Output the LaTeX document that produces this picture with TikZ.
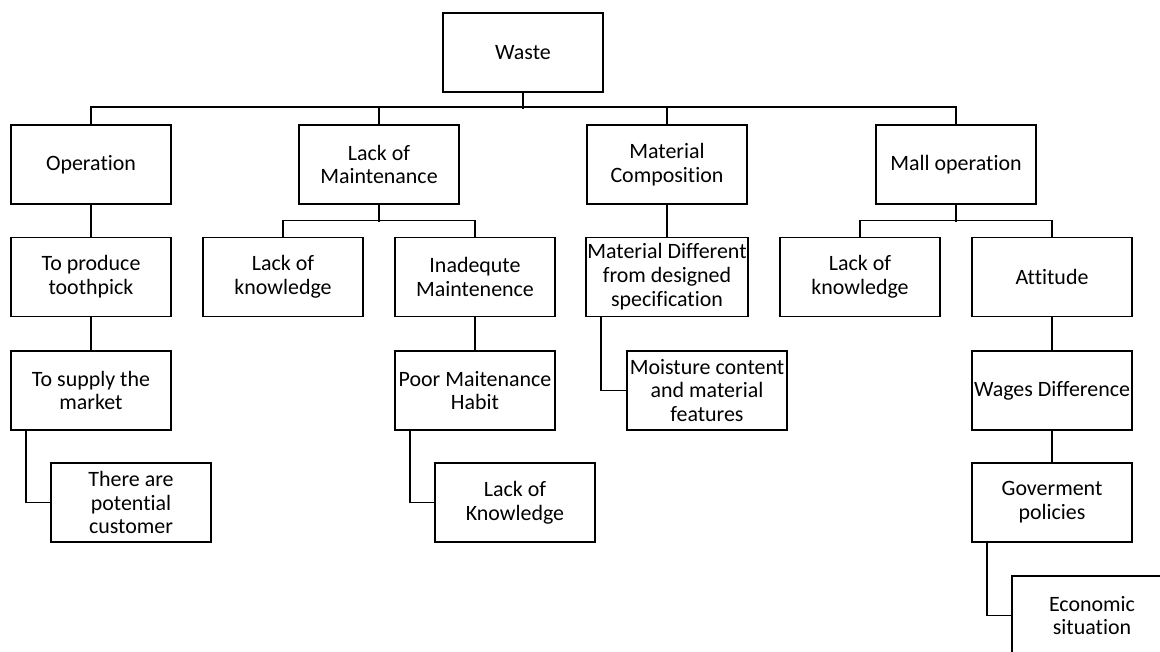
\documentclass[tikz,border=0pt]{standalone}
\usepackage{fontspec}
\setmainfont{Carlito}[Ligatures={NoCommon}]
\begin{document}
\begin{tikzpicture}[x=0.025cm,y=-0.025cm,
  box/.style={draw, line width=1.3pt, minimum width=4cm, minimum height=1.975cm,
    inner sep=1pt, align=center, font=\fontsize{15.6}{17}\selectfont},
  link/.style={draw, line width=1.3pt}]
\useasboundingbox (0,0) rectangle (1160,652);
\clip (0,0) rectangle (1160,652);

\node[box] (waste) at (523,52.5) {Waste};

\node[box] (op)   at (91,164.5)  {Operation};
\node[box] (lom)  at (379,164.5) {Lack of\\Maintenance};
\node[box] (mc)   at (667,164.5) {Material\\Composition};
\node[box] (mall) at (956,164.5) {Mall operation};

\node[box] (prod)  at (91,277)   {To produce\\toothpick};
\node[box] (lk1)   at (283,277)  {Lack of\\knowledge};
\node[box] (inad)  at (475,277)  {Inadequte\\Maintenence};
\node[box] (mdiff) at (667,277)  {Material Different\\from designed\\specification};
\node[box] (lk2)   at (860,277)  {Lack of\\knowledge};
\node[box] (att)   at (1052,277) {Attitude};

\node[box] (supp)  at (91,390.5)   {To supply the\\market};
\node[box] (poor)  at (475,390.5)  {Poor Maitenance\\Habit};
\node[box] (moist) at (707,390.5)  {Moisture content\\and material\\features};
\node[box] (wages) at (1052,390.5) {Wages Difference};

\node[box] (cust)  at (131,502.5)  {There are\\potential\\customer};
\node[box] (lk3)   at (515,502.5)  {Lack of\\Knowledge};
\node[box] (gov)   at (1052,502.5) {Goverment\\policies};

\node[box] (econ)  at (1092,615.5) {Economic\\situation};

% top level
\path[link] (waste.south) -- ++(0,16);
\path[link] (op.north) -- ++(0,-17) -| (mall.north);
\path[link] (lom.north) -- ++(0,-17);
\path[link] (mc.north) -- ++(0,-17);

% second level
\path[link] (op) -- (prod);
\path[link] (lom.south) -- ++(0,17);
\path[link] (lk1.north) -- ++(0,-16) -| (inad.north);
\path[link] (mc) -- (mdiff);
\path[link] (mall.south) -- ++(0,17);
\path[link] (lk2.north) -- ++(0,-16) -| (att.north);

% further down
\path[link] (prod) -- (supp);
\path[link] (inad) -- (poor);
\path[link] (att) -- (wages);
\path[link] (wages) -- (gov);
\path[link] ([xshift=0.4cm]supp.south west) |- (cust.west);
\path[link] ([xshift=0.4cm]poor.south west) |- (lk3.west);
\path[link] ([xshift=0.4cm]mdiff.south west) |- (moist.west);
\path[link] ([xshift=0.4cm]gov.south west) |- (econ.west);
\end{tikzpicture}
\end{document}
